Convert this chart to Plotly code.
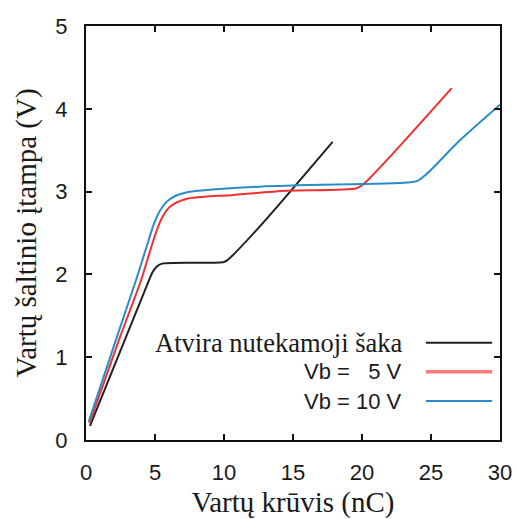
import plotly.graph_objects as go

# Data
black_x = [0.29, 4.4, 4.8, 5.1, 5.5, 10.0, 10.3, 12.6, 17.87]
black_y = [0.17, 1.86, 2.02, 2.09, 2.13, 2.15, 2.18, 2.58, 3.60]

red_x = [0.25, 2.39, 3.99, 4.6, 5.1, 5.5, 6.04, 7.25, 10.7, 14.5, 19.6, 20.1, 26.5]
red_y = [0.20, 1.21, 1.93, 2.26, 2.52, 2.68, 2.81, 2.91, 2.96, 3.01, 3.04, 3.09, 4.25]

blue_x = [0.19, 2.17, 3.62, 4.4, 4.9, 5.3, 5.8, 6.5, 7.25, 12.6, 23.3, 24.0, 24.6, 27.1, 30.0]
blue_y = [0.22, 1.21, 1.93, 2.34, 2.60, 2.75, 2.87, 2.95, 2.99, 3.06, 3.11, 3.13, 3.20, 3.62, 4.05]

series_names = ["Atvira nutekamoji šaka", "Vb = \u20075 V", "Vb = 10 V"]
x_ticks = [0, 5, 10, 15, 20, 25, 30]
y_ticks = [0, 1, 2, 3, 4, 5]

BLACK = "#222222"
RED = "#f23030"
BLUE = "#2a8cc8"
RED_LEG = "#ff7a7a"

fig = go.Figure()
for xs, ys, col, name in [(black_x, black_y, BLACK, series_names[0]),
                          (red_x, red_y, RED, series_names[1]),
                          (blue_x, blue_y, BLUE, series_names[2])]:
    fig.add_trace(go.Scatter(x=xs, y=ys, mode="lines", name=name,
                             line=dict(color=col, width=2, shape="spline", smoothing=0.8),
                             showlegend=False, cliponaxis=True))

serif = "Liberation Serif, Times New Roman, serif"
sans = "Liberation Sans, Arial, sans-serif"
txt = "#1a1a1a"

axis_common = dict(showline=True, linecolor="#111111", linewidth=2, mirror="allticks",
                   ticks="inside", ticklen=6, tickwidth=1.5, tickcolor="#111111",
                   showgrid=False, zeroline=False, automargin=False,
                   tickfont=dict(family=sans, size=22, color=txt))

fig.update_layout(
    width=519, height=519,
    margin=dict(l=86, r=19, t=26, b=79),
    plot_bgcolor="white", paper_bgcolor="white",
    xaxis=dict(range=[0, 30], tickvals=x_ticks, ticklabelstandoff=12,
               title=dict(text="Vartų krūvis (nC)", font=dict(family=serif, size=29, color=txt), standoff=13),
               **axis_common),
    yaxis=dict(range=[0, 5], tickvals=y_ticks, ticklabelstandoff=12,
               title=dict(text="Vartų šaltinio įtampa (V)", font=dict(family=serif, size=29, color=txt), standoff=10),
               **axis_common),
)

# custom legend (text right-aligned, sample line to the right)
leg_rows = [0.235, 0.165, 0.094]
leg_cols = [BLACK, RED_LEG, BLUE]
leg_widths = [2, 3.5, 2]
leg_fonts = [dict(family=serif, size=26.5, color=txt),
             dict(family=sans, size=22, color=txt),
             dict(family=sans, size=22, color=txt)]
for yv, col, w, name, f in zip(leg_rows, leg_cols, leg_widths, series_names, leg_fonts):
    fig.add_annotation(x=0.768, y=yv, xref="paper", yref="paper", text=name,
                       showarrow=False, xanchor="right", yanchor="middle", font=f)
    fig.add_shape(type="line", xref="paper", yref="paper", x0=0.821, x1=0.981, y0=yv, y1=yv,
                  line=dict(color=col, width=w))

fig.write_html("out.html")
